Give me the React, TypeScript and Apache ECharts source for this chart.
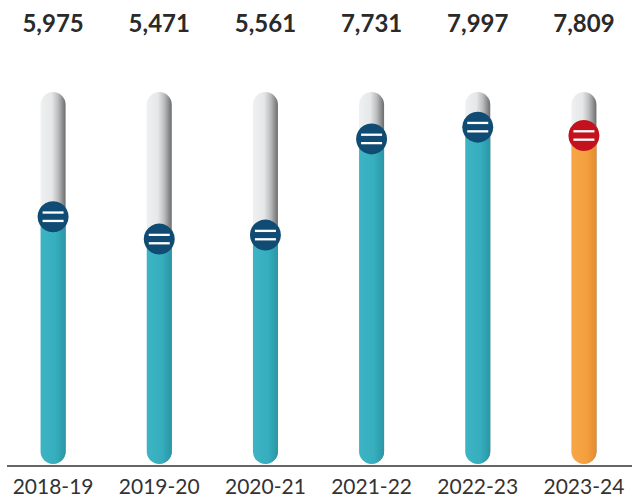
import React, { useEffect, useRef } from "react";
import * as echarts from "echarts";

const CATEGORIES = ["2018-19", "2019-20", "2020-21", "2021-22", "2022-23", "2023-24"];
const VALUES = [5975, 5471, 5561, 7731, 7997, 7809];
const HIGHLIGHT = "2023-24";
const Y_MIN = 350;
const Y_MAX = 8790;

const fmt = (v: number) => v.toLocaleString("en-US");

export default function App() {
  const ref = useRef<HTMLDivElement>(null);
  useEffect(() => {
    if (!ref.current) return;
    const chart = echarts.init(ref.current, null, { renderer: "svg" });
    const data = VALUES.map((v, i) => [i, v]);
    chart.setOption({
      animation: false,
      grid: { left: 0, right: 3, top: 92, bottom: 34, containLabel: false },
      xAxis: {
        type: "category",
        data: CATEGORIES,
        axisLine: { show: false },
        axisTick: { show: false },
        axisLabel: { fontSize: 21, color: "#333", fontFamily: "Lato", margin: 9 },
      },
      yAxis: {
        type: "value",
        min: Y_MIN,
        max: Y_MAX,
        show: false,
        splitLine: { show: false },
      },
      graphic: [
        {
          type: "line",
          shape: { x1: 7, y1: 466, x2: 632, y2: 466 },
          style: { stroke: "#333", lineWidth: 1.5 },
          z: 100,
        },
      ],
      series: [
        {
          type: "custom",
          data,
          renderItem: (params: any, api: any) => {
            const i = api.value(0);
            const v = api.value(1);
            const hi = CATEGORIES[i] === HIGHLIGHT;
            const top = api.coord([i, Y_MAX]);
            const base = api.coord([i, Y_MIN]);
            const pt = api.coord([i, v]);
            const w = 25;
            const cx = pt[0];
            const bottom = base[1] - 2;
            const fillMain = hi
              ? {
                  type: "linear", x: 0, y: 0, x2: 1, y2: 0,
                  colorStops: [
                    { offset: 0, color: "#f7a646" },
                    { offset: 0.6, color: "#f4a03f" },
                    { offset: 1, color: "#e38c2c" },
                  ],
                }
              : {
                  type: "linear", x: 0, y: 0, x2: 1, y2: 0,
                  colorStops: [
                    { offset: 0, color: "#3cb4c3" },
                    { offset: 0.6, color: "#36aebe" },
                    { offset: 1, color: "#2996a5" },
                  ],
                };
            const markerColor = hi ? "#c3111d" : "#0f4b73";
            return {
              type: "group",
              children: [
                {
                  type: "rect",
                  shape: { x: cx - w / 2, y: top[1], width: w, height: bottom - top[1], r: w / 2 },
                  style: {
                    fill: {
                      type: "linear", x: 0, y: 0, x2: 1, y2: 0,
                      colorStops: [
                        { offset: 0, color: "#eff0f2" },
                        { offset: 0.45, color: "#e6e7e9" },
                        { offset: 0.7, color: "#bcbdbf" },
                        { offset: 1, color: "#6c6c6c" },
                      ],
                    },
                  },
                },
                {
                  type: "rect",
                  shape: { x: cx - w / 2, y: pt[1], width: w, height: bottom - pt[1], r: [0, 0, w / 2, w / 2] },
                  style: { fill: fillMain },
                },
                {
                  type: "circle",
                  shape: { cx, cy: pt[1], r: 15.5 },
                  style: { fill: markerColor },
                },
                {
                  type: "line",
                  shape: { x1: cx - 10.5, y1: pt[1] - 4.2, x2: cx + 10.5, y2: pt[1] - 4.2 },
                  style: { stroke: "#fff", lineWidth: 2.3 },
                },
                {
                  type: "line",
                  shape: { x1: cx - 10.5, y1: pt[1] + 4.2, x2: cx + 10.5, y2: pt[1] + 4.2 },
                  style: { stroke: "#fff", lineWidth: 2.3 },
                },
                {
                  type: "text",
                  x: cx,
                  y: top[1] - 70,
                  style: {
                    text: fmt(v),
                    fontSize: 24,
                    fontWeight: "bold",
                    fontFamily: "Lato",
                    fill: "#2a2a2a",
                    align: "center",
                    verticalAlign: "middle",
                  },
                },
              ],
            };
          },
        },
      ],
    });
    return () => chart.dispose();
  }, []);
  return (
    <div
      ref={ref}
      style={{ position: "fixed", left: 0, top: 0, width: 640, height: 500, background: "#fff" }}
    />
  );
}
